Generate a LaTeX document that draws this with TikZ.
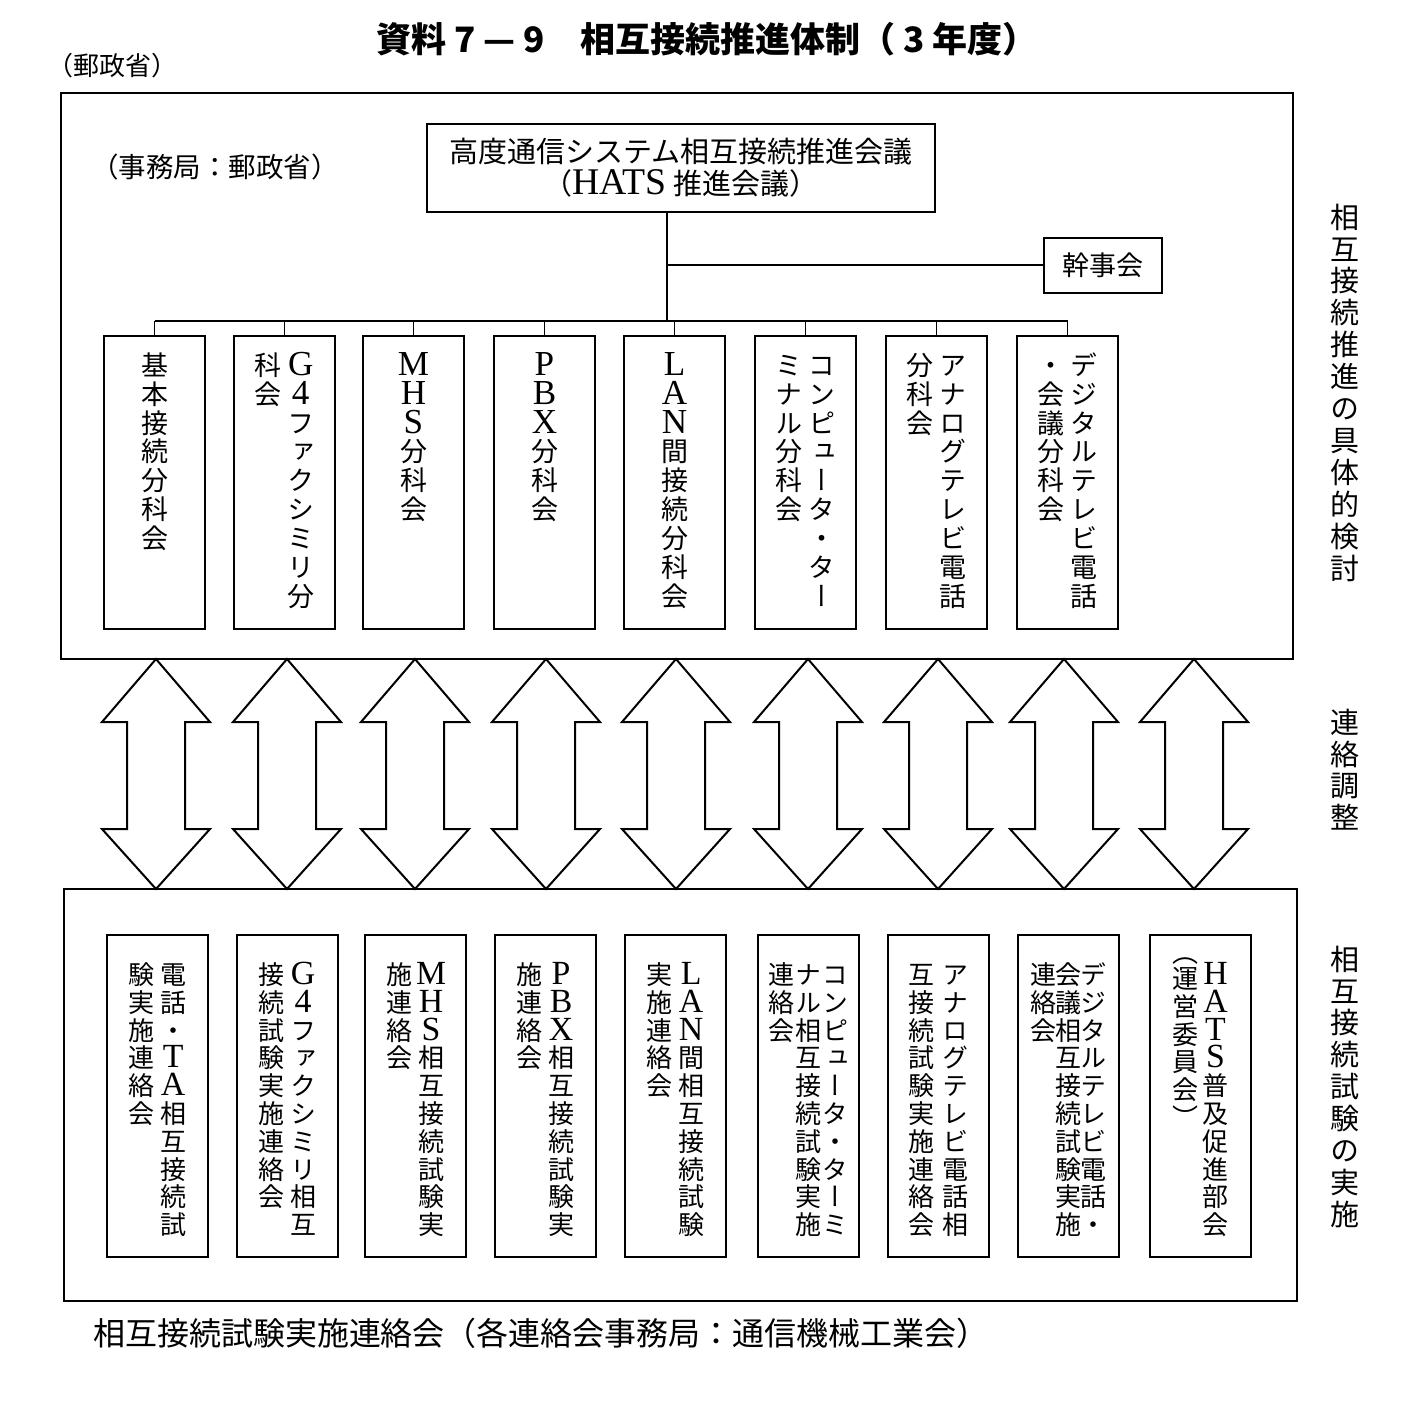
\documentclass[tikz,border=0pt]{standalone}
\usepackage{fontspec}
\setmainfont{Noto Sans CJK JP}
\newfontfamily\vjp[RawFeature=+vert]{Noto Sans CJK JP}
\newfontfamily\lat[Scale=1.3]{Liberation Serif}
\makeatletter
\def\vcw{1.1em}\def\vrowh{0.9em}\def\vrowd{0.17em}
\newcommand\vrows[1]{\@tfor\vc:=#1\do{\hbox to \vcw{\hss\vrule height\vrowh depth\vrowd width 0pt\relax\vc\hss}}}
\makeatother
\newcommand\vcol[1]{\vbox to 0pt{\offinterlineskip\vrows{#1}\vss}}
\newcommand\vlab[1]{\vbox{\offinterlineskip\vrows{#1}}}
\newcommand\tbody[1]{\vbox to 293pt{\def\vcw{1.2em}\vskip15pt\hbox{#1}\vss}}
\newcommand\bbody[2][1.2em]{\vbox to 322pt{\def\vcw{#1}\vskip26pt\hbox{#2}\vss}}
\newcommand\prow[2]{\hbox to \vcw{\hss\vrule height 0.5em depth 0pt width 0pt\relax\raisebox{#1}[0pt][0pt]{#2}\hss}}
\newcommand\pcol{\vbox to 0pt{\offinterlineskip\kern-9pt\prow{0.1em}{（}\vrows{運営委員会}\prow{-0.4em}{）}\vss}}
\tikzset{
  box/.style={draw, line width=2pt, inner sep=0pt, anchor=north, minimum width=101pt},
  tb/.style={box, minimum height=293pt, font=\vjp\fontsize{27}{27}\selectfont},
  bb/.style={box, minimum height=322pt, font=\vjp\fontsize{26}{26}\selectfont},
  outer/.style={draw, line width=1.8pt, anchor=north west, inner sep=0pt},
  link/.style={line width=1.6pt},
  darr/.style={draw, line width=2pt, line join=miter},
  side/.style={inner sep=0pt, anchor=north, font=\vjp\fontsize{29}{29}\selectfont},
  plain/.style={inner sep=0pt}
}
\begin{document}
\begin{tikzpicture}[x=1pt, y=-1pt]
\fill[white] (0,0) rectangle (1417,1417);
\useasboundingbox (0,0) rectangle (1417,1417);

% title and headers
\node[plain, font=\bfseries\fontsize{35}{35}\selectfont] (title) at (707,39) {資料 7 — 9　相互接続推進体制（ 3 年度）};
\node[plain, anchor=west, font=\fontsize{26}{26}\selectfont] (mpt) at (47,66) {（郵政省）};

% outer frames
\node[outer, minimum width=1232pt, minimum height=566pt] (upper) at (60,92) {};
\node[outer, minimum width=1233pt, minimum height=412pt] (lower) at (63,888) {};

\node[plain, font=\fontsize{27.5}{27.5}\selectfont] (secr) at (215,167) {（事務局：郵政省）};

\node[draw, line width=2pt, minimum width=508pt, minimum height=88pt, inner sep=0pt, align=center, font=\fontsize{29}{32}\selectfont] (hats) at (681,168) {高度通信システム相互接続推進会議\\（{\lat HATS} 推進会議）};
\node[draw, line width=2pt, minimum width=118pt, minimum height=55pt, inner sep=0pt, font=\fontsize{27}{27}\selectfont] (kanji) at (1103,265) {幹事会};

% upper subcommittees
\node[tb] (t1) at (154.5,335) {\tbody{\vcol{基本接続分科会}}};
\node[tb] (t2) at (284.5,335) {\tbody{\vcol{科会}\vcol{{\lat G}{\lat 4}ファクシミリ分}}};
\node[tb] (t3) at (413.5,335) {\tbody{\vcol{{\lat M}{\lat H}{\lat S}分科会}}};
\node[tb] (t4) at (544.5,335) {\tbody{\vcol{{\lat P}{\lat B}{\lat X}分科会}}};
\node[tb] (t5) at (674.5,335) {\tbody{\vcol{{\lat L}{\lat A}{\lat N}間接続分科会}}};
\node[tb] (t6) at (805.5,335) {\tbody{\vcol{ミナル分科会}\vcol{コンピュータ・ター}}};
\node[tb] (t7) at (936.5,335) {\tbody{\vcol{分科会}\vcol{アナログテレビ電話}}};
\node[tb] (t8) at (1067.5,335) {\tbody{\vcol{・会議分科会}\vcol{デジタルテレビ電話}}};

% tree
\coordinate (jt) at (667,321);
\draw[link] (hats.south -| jt) -- (jt);
\draw[link] (jt |- kanji.west) -- (kanji.west);
\draw[link] (t1.north |- jt) -- (t8.north |- jt);
\foreach \i in {1,...,8} \draw[link] (t\i.north) -- (t\i.north |- jt);

% double arrows
\foreach \x in {156,287,415,546,676,808,938,1064,1194}
  \draw[darr] (\x,659) -- (\x+54,722) -- (\x+29,722) -- (\x+29,829) -- (\x+54,829) -- (\x,889) -- (\x-54,829) -- (\x-29,829) -- (\x-29,722) -- (\x-54,722) -- cycle;

% lower liaison committees
\node[bb] (b1) at (157.5,934) {\bbody{\vcol{験実施連絡会}\vcol{電話・{\lat T}{\lat A}相互接続試}}};
\node[bb] (b2) at (287.5,934) {\bbody{\vcol{接続試験実施連絡会}\vcol{{\lat G}{\lat 4}ファクシミリ相互}}};
\node[bb] (b3) at (415.5,934) {\bbody{\vcol{施連絡会}\vcol{{\lat M}{\lat H}{\lat S}相互接続試験実}}};
\node[bb] (b4) at (545.5,934) {\bbody{\vcol{施連絡会}\vcol{{\lat P}{\lat B}{\lat X}相互接続試験実}}};
\node[bb] (b5) at (675.5,934) {\bbody{\vcol{実施連絡会}\vcol{{\lat L}{\lat A}{\lat N}間相互接続試験}}};
\node[bb] (b6) at (808.5,934) {\bbody[1.02em]{\vcol{連絡会}\vcol{ナル相互接続試験実施}\vcol{コンピュータ・ターミ}}};
\node[bb] (b7) at (938.5,934) {\bbody[1.3em]{\vcol{互接続試験実施連絡会}\vcol{アナログテレビ電話相}}};
\node[bb] (b8) at (1068.5,934) {\bbody[0.98em]{\vcol{連絡会}\vcol{会議相互接続試験実施}\vcol{デジタルテレビ電話・}}};
\node[bb] (b9) at (1200.5,934) {\bbody[1.15em]{\pcol\vcol{{\lat H}{\lat A}{\lat T}{\lat S}普及促進部会}}};

% side labels
\node[side] (s1) at (1345,201) {\def\vrowh{0.93em}\vlab{相互接続推進の具体的検討}};
\node[side] (s2) at (1345,706) {\def\vrowh{0.93em}\vlab{連絡調整}};
\node[side] (s3) at (1345,943) {\def\vrowh{0.93em}\vlab{相互接続試験の実施}};

% caption
\node[plain, font=\fontsize{32}{32}\selectfont] (cap) at (541,1333) {相互接続試験実施連絡会（各連絡会事務局：通信機械工業会）};
\end{tikzpicture}
\end{document}
